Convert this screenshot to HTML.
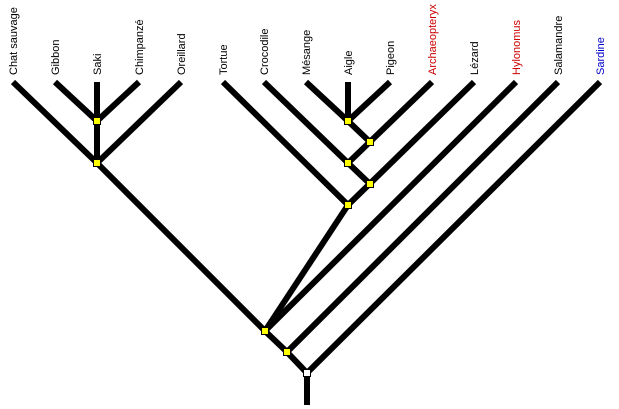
<!DOCTYPE html>
<html><head><meta charset="utf-8"><style>
html,body{margin:0;padding:0;background:#fff;}
svg{display:block;}
text{font-family:"Liberation Sans",sans-serif;font-size:11px;}
</style></head><body>
<svg width="619" height="409" viewBox="0 0 619 409" xmlns="http://www.w3.org/2000/svg">
<g stroke="#000" stroke-width="6" fill="none" stroke-linecap="butt" stroke-linejoin="miter">
<polyline points="13,82 97,163 265,331 287,352 307,373"/>
<line x1="55" y1="82" x2="97" y2="121"/>
<line x1="139" y1="82" x2="97" y2="121"/>
<line x1="97" y1="82" x2="97" y2="163"/>
<line x1="181" y1="82" x2="97" y2="163"/>
<line x1="223" y1="82" x2="348" y2="205"/>
<polyline points="264,82 348,163 370,184"/>
<polyline points="306,82 348,121 370,142"/>
<line x1="348" y1="82" x2="348" y2="121"/>
<line x1="390" y1="82" x2="348" y2="121"/>
<line x1="432" y1="82" x2="348" y2="163"/>
<line x1="474" y1="82" x2="348" y2="205"/>
<line x1="348" y1="205" x2="265" y2="331"/>
<line x1="516" y1="82" x2="265" y2="331"/>
<line x1="558" y1="82" x2="287" y2="352"/>
<line x1="600" y1="82" x2="307" y2="373"/>
<line x1="307" y1="373" x2="307" y2="405"/>
</g>
<g fill="#ff0" stroke="#000" stroke-width="1">
<rect x="93.5" y="117.5" width="7" height="7"/>
<rect x="93.5" y="159.5" width="7" height="7"/>
<rect x="344.5" y="117.5" width="7" height="7"/>
<rect x="366.5" y="138.5" width="7" height="7"/>
<rect x="344.5" y="159.5" width="7" height="7"/>
<rect x="366.5" y="180.5" width="7" height="7"/>
<rect x="344.5" y="201.5" width="7" height="7"/>
<rect x="261.5" y="327.5" width="7" height="7"/>
<rect x="283.5" y="348.5" width="7" height="7"/>
<rect x="303.5" y="369.5" width="7" height="7" fill="#fff"/>
</g>
<g fill="#000">
<text transform="translate(17,75) rotate(-90)">Chat sauvage</text>
<text transform="translate(59,75) rotate(-90)">Gibbon</text>
<text transform="translate(101,75) rotate(-90)">Saki</text>
<text transform="translate(143,75) rotate(-90)">Chimpanzé</text>
<text transform="translate(185,75) rotate(-90)">Oreillard</text>
<text transform="translate(227,75) rotate(-90)">Tortue</text>
<text transform="translate(268,75) rotate(-90)">Crocodile</text>
<text transform="translate(310,75) rotate(-90)">Mésange</text>
<text transform="translate(352,75) rotate(-90)">Aigle</text>
<text transform="translate(394,75) rotate(-90)">Pigeon</text>
<text transform="translate(436,75) rotate(-90)" fill="#cc0000">Archaeopteryx</text>
<text transform="translate(478,75) rotate(-90)">Lézard</text>
<text transform="translate(520,75) rotate(-90)" fill="#cc0000">Hylonomus</text>
<text transform="translate(562,75) rotate(-90)">Salamandre</text>
<text transform="translate(604,75) rotate(-90)" fill="#0000cc">Sardine</text>
</g>
</svg>
</body></html>
